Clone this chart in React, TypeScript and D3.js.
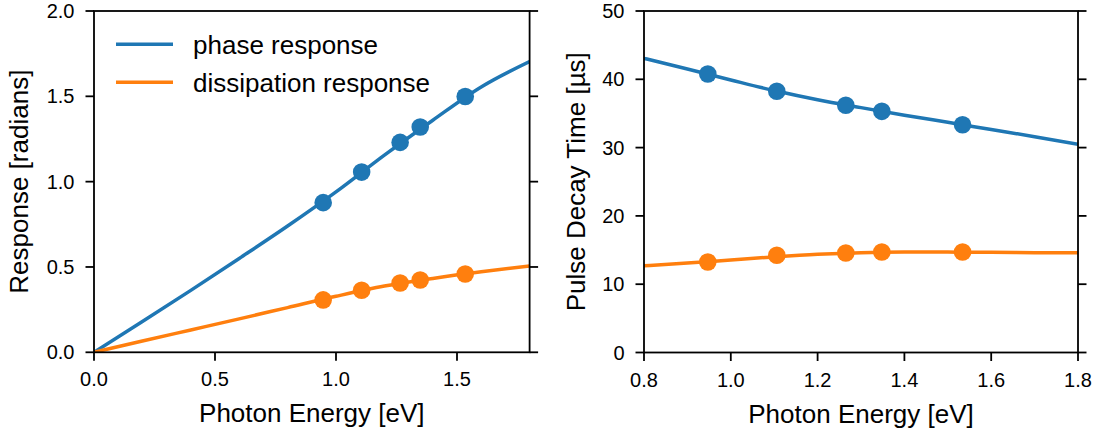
import React from "react";
import * as d3 from "d3";

// Photon energies of the measured points [eV]
const energies = [0.947, 1.106, 1.265, 1.348, 1.534];

// Measured responses [radians]
const phasePoints = [0.877, 1.056, 1.23, 1.32, 1.499];
const dissipationPoints = [0.307, 0.364, 0.406, 0.424, 0.459];

// Model response curves
const responseCurveE = [0, 0.2, 0.4, 0.6, 0.8, 1.0, 1.2, 1.4, 1.6, 1.8];
const phaseCurve = [0, 0.18, 0.363, 0.55, 0.74, 0.94, 1.155, 1.36, 1.555, 1.704];
const dissipationCurve = [0, 0.066, 0.131, 0.196, 0.262, 0.328, 0.388, 0.433, 0.472, 0.506];

// Measured pulse decay times [µs]
const phaseDecayPoints = [40.78, 38.24, 36.19, 35.31, 33.35];
const dissipationDecayPoints = [13.25, 14.23, 14.57, 14.71, 14.71];

// Model decay time curves
const decayCurveE = [0.8, 0.9, 1.0, 1.1, 1.2, 1.3, 1.4, 1.5, 1.6, 1.7, 1.8];
const phaseDecayCurve = [43.07, 41.5, 39.9, 38.35, 37.0, 35.85, 34.75, 33.7, 32.65, 31.6, 30.5];
const dissipationDecayCurve = [12.7, 13.1, 13.55, 14.0, 14.38, 14.62, 14.7, 14.7, 14.66, 14.62, 14.6];

const leftXTicks = [0.0, 0.5, 1.0, 1.5];
const leftYTicks = [0.0, 0.5, 1.0, 1.5, 2.0];
const rightXTicks = [0.8, 1.0, 1.2, 1.4, 1.6, 1.8];
const rightYTicks = [0, 10, 20, 30, 40, 50];

const legendLabels = ["phase response", "dissipation response"];

const BLUE = "#1f77b4";
const ORANGE = "#ff7f0e";
const FONT = "'Liberation Sans', Arial, Helvetica, sans-serif";

type PanelProps = {
  x0: number;
  x1: number;
  y0: number;
  y1: number;
  xDomain: [number, number];
  yDomain: [number, number];
  xTicks: number[];
  yTicks: number[];
  xFmt: (v: number) => string;
  yFmt: (v: number) => string;
  yLabel: string;
  yLabelX: number;
  curveE: number[];
  curves: { values: number[]; color: string }[];
  points: { values: number[]; color: string }[];
  legend?: boolean;
};

function Panel(p: PanelProps) {
  const x = d3.scaleLinear().domain(p.xDomain).range([p.x0, p.x1]);
  const y = d3.scaleLinear().domain(p.yDomain).range([p.y1, p.y0]);
  const line = d3
    .line<[number, number]>()
    .x((d) => x(d[0]))
    .y((d) => y(d[1]))
    .curve(d3.curveMonotoneX);
  const tickLen = 8.5;
  const axisW = 1.8;
  const cy = (p.y0 + p.y1) / 2;
  const cx = (p.x0 + p.x1) / 2;
  return (
    <g>
      <defs>
        <clipPath id={`clip-${p.x0}`}>
          <rect x={p.x0} y={p.y0} width={p.x1 - p.x0} height={p.y1 - p.y0} />
        </clipPath>
      </defs>
      <g clipPath={`url(#clip-${p.x0})`}>
        {p.curves.map((c, i) => (
          <path
            key={i}
            d={line(p.curveE.map((e, j) => [e, c.values[j]] as [number, number])) || ""}
            fill="none"
            stroke={c.color}
            strokeWidth={3.5}
          />
        ))}
      </g>
      {p.points.map((s, i) =>
        energies.map((e, j) => (
          <circle key={`${i}-${j}`} cx={x(e)} cy={y(s.values[j])} r={8.8} fill={s.color} />
        ))
      )}
      {/* spines */}
      <rect
        x={p.x0}
        y={p.y0}
        width={p.x1 - p.x0}
        height={p.y1 - p.y0}
        fill="none"
        stroke="#000"
        strokeWidth={axisW}
      />
      {/* bottom ticks */}
      {p.xTicks.map((t) => (
        <g key={`x${t}`}>
          <line x1={x(t)} x2={x(t)} y1={p.y1} y2={p.y1 + tickLen} stroke="#000" strokeWidth={axisW} />
          <text
            x={x(t)}
            y={p.y1 + 34}
            textAnchor="middle"
            fontFamily={FONT}
            fontSize={20}
            fill="#000"
          >
            {p.xFmt(t)}
          </text>
        </g>
      ))}
      {/* left and right ticks */}
      {p.yTicks.map((t) => (
        <g key={`y${t}`}>
          <line x1={p.x0 - tickLen} x2={p.x0} y1={y(t)} y2={y(t)} stroke="#000" strokeWidth={axisW} />
          <line x1={p.x1} x2={p.x1 + tickLen} y1={y(t)} y2={y(t)} stroke="#000" strokeWidth={axisW} />
          <text
            x={p.x0 - tickLen - 11}
            y={y(t) + 7}
            textAnchor="end"
            fontFamily={FONT}
            fontSize={20}
            fill="#000"
          >
            {p.yFmt(t)}
          </text>
        </g>
      ))}
      <text
        x={cx}
        y={p.y1 + 70}
        textAnchor="middle"
        fontFamily={FONT}
        fontSize={26}
        fill="#000"
      >
        Photon Energy [eV]
      </text>
      <text
        transform={`translate(${p.yLabelX},${cy}) rotate(-90)`}
        textAnchor="middle"
        fontFamily={FONT}
        fontSize={26}
        fill="#000"
      >
        {p.yLabel}
      </text>
      {p.legend &&
        legendLabels.map((lab, i) => {
          const ly = 44.3 + i * 38;
          return (
            <g key={lab}>
              <line
                x1={116}
                x2={173}
                y1={ly}
                y2={ly}
                stroke={i === 0 ? BLUE : ORANGE}
                strokeWidth={3.5}
              />
              <text x={193} y={ly + 10} fontFamily={FONT} fontSize={26} fill="#000">
                {lab}
              </text>
            </g>
          );
        })}
    </g>
  );
}

export default function App() {
  return (
    <svg
      width={1099}
      height={434}
      style={{ position: "absolute", left: 0, top: 0, display: "block", background: "#fff" }}
    >
      <Panel
        x0={94}
        x1={529.6}
        y0={11}
        y1={352.3}
        xDomain={[0, 1.8]}
        yDomain={[0, 2]}
        xTicks={leftXTicks}
        yTicks={leftYTicks}
        xFmt={d3.format(".1f")}
        yFmt={d3.format(".1f")}
        yLabel="Response [radians]"
        yLabelX={28}
        curveE={responseCurveE}
        curves={[
          { values: phaseCurve, color: BLUE },
          { values: dissipationCurve, color: ORANGE },
        ]}
        points={[
          { values: phasePoints, color: BLUE },
          { values: dissipationPoints, color: ORANGE },
        ]}
        legend
      />
      <Panel
        x0={644}
        x1={1078}
        y0={11}
        y1={352.5}
        xDomain={[0.8, 1.8]}
        yDomain={[0, 50]}
        xTicks={rightXTicks}
        yTicks={rightYTicks}
        xFmt={d3.format(".1f")}
        yFmt={d3.format("d")}
        yLabel="Pulse Decay Time [µs]"
        yLabelX={585}
        curveE={decayCurveE}
        curves={[
          { values: phaseDecayCurve, color: BLUE },
          { values: dissipationDecayCurve, color: ORANGE },
        ]}
        points={[
          { values: phaseDecayPoints, color: BLUE },
          { values: dissipationDecayPoints, color: ORANGE },
        ]}
      />
    </svg>
  );
}
